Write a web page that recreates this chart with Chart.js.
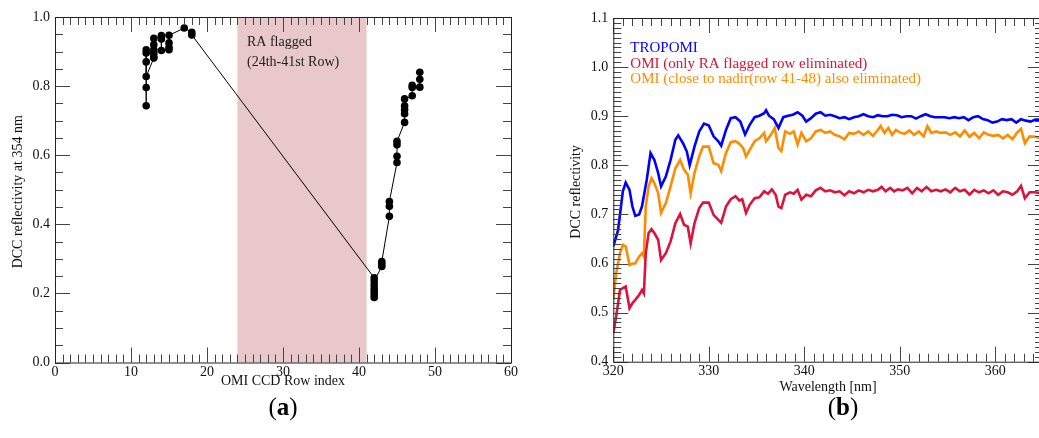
<!DOCTYPE html>
<html>
<head>
<meta charset="utf-8">
<script src="https://cdn.jsdelivr.net/npm/chart.js@4.4.0/dist/chart.umd.min.js"></script>
<style>
  body { margin: 0; background: #fff; overflow: hidden; width: 1039px; height: 438px; position: relative; }
  #boxA { position: absolute; left: 0; top: 0; }
  #boxB { position: absolute; left: 520px; top: 0; }
  .tag { position: absolute; top: 393px; font: 25px "Liberation Serif", serif; width: 60px; text-align: center; }
</style>
</head>
<body>
<canvas id="boxA" width="520" height="400"></canvas>
<canvas id="boxB" width="540" height="400"></canvas>
<div class="tag" style="left:253px">(<b>a</b>)</div>
<div class="tag" style="left:813px">(<b>b</b>)</div>
<script>
// (a) DCC reflectivity at 354 nm per OMI CCD row
const rowIdx = [12,12,12,12,12,12, 13,13,13,13,13,13, 14,14,14, 15,15,15,15, 17, 18,18,
                42,42,42,42,42,42,42, 43,43,43, 44,44,44, 45,45,45,45, 46,46,46,46,46, 47,47,47, 48,48,48];
const rowRefl = [0.905,0.896,0.870,0.743,0.796,0.828, 0.881,0.886,0.896,0.905,0.920,0.938,
                 0.946,0.936,0.903, 0.905,0.912,0.925,0.947, 0.968, 0.956,0.948,
                 0.245,0.188,0.197,0.206,0.215,0.225,0.236, 0.278,0.285,0.292,
                 0.423,0.452,0.466, 0.579,0.597,0.630,0.640, 0.695,0.720,0.732,0.743,0.763,
                 0.772,0.796,0.802, 0.797,0.820,0.840];
const flaggedRows = [24, 41];

// (b) DCC reflectivity spectra
const tropomiWl = [320.0,320.5,321.0,321.3,321.7,322.0,322.3,322.7,323.0,323.5,
  323.9,324.3,324.7,325.0,325.5,326.0,326.5,326.8,327.3,327.7,
  328.0,328.5,329.0,329.5,330.0,330.5,331.0,331.3,331.8,332.3,
  332.8,333.3,333.8,334.3,334.8,335.3,335.8,336.0,336.3,336.8,
  337.3,337.8,338.3,338.8,339.3,339.8,340.2,340.7,341.2,341.7,
  342.2,342.7,343.2,343.7,344.2,344.7,345.2,345.7,346.2,346.7,
  347.2,347.7,348.2,348.7,349.2,349.7,350.2,350.7,351.2,351.7,
  352.2,352.7,353.2,353.7,354.2,354.7,355.2,355.7,356.2,356.7,
  357.2,357.7,358.2,358.7,359.2,359.7,360.2,360.7,361.2,361.7,
  362.2,362.7,363.2,363.7,364.2,364.7];
const tropomiRefl = [0.635,0.668,0.747,0.765,0.750,0.716,0.697,0.700,0.716,0.770,
  0.825,0.811,0.784,0.757,0.777,0.811,0.852,0.861,0.845,0.828,
  0.800,0.838,0.869,0.885,0.881,0.859,0.849,0.840,0.872,0.896,
  0.898,0.889,0.863,0.883,0.898,0.901,0.906,0.912,0.901,0.894,
  0.876,0.898,0.901,0.903,0.908,0.901,0.889,0.896,0.905,0.908,
  0.901,0.903,0.900,0.896,0.898,0.894,0.898,0.900,0.904,0.900,
  0.898,0.902,0.900,0.900,0.903,0.902,0.898,0.900,0.900,0.895,
  0.900,0.904,0.900,0.898,0.898,0.898,0.896,0.898,0.896,0.898,
  0.892,0.898,0.900,0.894,0.892,0.887,0.889,0.894,0.892,0.894,
  0.887,0.894,0.891,0.889,0.893,0.893];

const omiRaWl = [320.0,320.3,320.7,321.0,321.3,321.7,322.0,322.3,322.7,323.0,
  323.2,323.4,323.7,324.0,324.3,324.7,325.0,325.5,326.0,326.5,
  327.0,327.4,327.8,328.1,328.5,329.0,329.4,330.0,330.5,331.0,
  331.3,331.8,332.3,332.8,333.2,333.5,333.9,334.3,334.8,335.3,
  335.8,336.2,336.6,337.0,337.3,337.6,338.0,338.5,338.9,339.3,
  339.7,340.2,340.7,341.2,341.7,342.2,342.7,343.2,343.7,344.2,
  344.7,345.2,345.7,346.2,346.7,347.2,347.7,348.1,348.5,349.0,
  349.4,349.8,350.3,350.8,351.3,351.8,352.3,352.8,353.3,353.8,
  354.3,354.8,355.3,355.8,356.3,356.8,357.3,357.8,358.3,358.8,
  359.3,359.8,360.3,360.8,361.3,361.8,362.3,362.7,363.1,363.6,
  364.2,364.7];
const omiRaRefl = [0.458,0.492,0.546,0.550,0.553,0.509,0.519,0.526,0.536,0.546,
  0.539,0.621,0.662,0.670,0.662,0.648,0.607,0.621,0.645,0.682,
  0.701,0.679,0.675,0.641,0.682,0.713,0.724,0.724,0.699,0.689,
  0.683,0.716,0.731,0.737,0.728,0.731,0.703,0.720,0.733,0.735,
  0.747,0.742,0.751,0.740,0.716,0.713,0.740,0.745,0.742,0.750,
  0.730,0.740,0.737,0.749,0.754,0.747,0.749,0.745,0.747,0.739,
  0.747,0.743,0.749,0.745,0.750,0.747,0.750,0.756,0.747,0.754,
  0.747,0.751,0.749,0.754,0.743,0.754,0.747,0.756,0.747,0.750,
  0.747,0.751,0.745,0.754,0.747,0.750,0.740,0.750,0.745,0.749,
  0.743,0.749,0.740,0.747,0.745,0.740,0.747,0.758,0.733,0.745,
  0.745,0.743];

const omiNadirWl = [320.0,320.3,320.7,321.0,321.3,321.7,322.0,322.3,322.7,323.0,
  323.2,323.4,323.7,324.0,324.3,324.7,325.0,325.5,326.0,326.5,
  327.0,327.4,327.8,328.1,328.5,329.0,329.4,330.0,330.5,331.0,
  331.3,331.8,332.3,332.8,333.2,333.6,333.9,334.3,334.8,335.3,
  335.8,336.0,336.5,336.9,337.3,337.6,338.0,338.5,338.9,339.3,
  339.7,340.2,340.7,341.2,341.7,342.2,342.7,343.2,343.7,344.2,
  344.7,345.2,345.7,346.2,346.7,347.2,347.7,348.0,348.4,348.8,
  349.2,349.6,350.0,350.5,351.0,351.5,352.0,352.5,352.9,353.3,
  353.8,354.3,354.8,355.3,355.8,356.3,356.8,357.3,357.8,358.3,
  358.8,359.3,359.8,360.3,360.8,361.3,361.8,362.3,362.7,363.1,
  363.6,364.2,364.7];
const omiNadirRefl = [0.526,0.580,0.621,0.638,0.635,0.597,0.600,0.600,0.614,0.621,
  0.614,0.716,0.757,0.774,0.764,0.743,0.703,0.723,0.757,0.794,
  0.811,0.791,0.781,0.743,0.784,0.818,0.838,0.838,0.804,0.801,
  0.788,0.825,0.847,0.849,0.844,0.835,0.818,0.832,0.849,0.855,
  0.866,0.849,0.862,0.876,0.835,0.829,0.869,0.864,0.869,0.842,
  0.866,0.849,0.855,0.869,0.872,0.866,0.869,0.862,0.859,0.853,
  0.866,0.864,0.869,0.862,0.869,0.860,0.872,0.880,0.866,0.876,
  0.862,0.872,0.867,0.864,0.871,0.862,0.869,0.859,0.880,0.866,
  0.869,0.866,0.867,0.862,0.867,0.859,0.871,0.858,0.866,0.855,
  0.867,0.862,0.860,0.862,0.855,0.862,0.853,0.867,0.874,0.845,
  0.859,0.858,0.855];

const seriesNames = ["TROPOMI", "OMI (only RA flagged row eliminated)", "OMI (close to nadir(row 41-48) also eliminated)"];
const seriesColors = ["#0000ff", "#dc143c", "#ff8c00"];

const SERIF = '"Liberation Serif", "DejaVu Serif", serif';
const pairs = (xs, ys) => xs.map((x, i) => ({ x: x, y: ys[i] }));

// frame + inward ticks on all four sides, axis titles, annotations
const framePlugin = {
  id: 'frame',
  beforeDatasetsDraw(chart, args, o) {
    if (!o.band) return;
    const { ctx, chartArea: a, scales: { x } } = chart;
    ctx.save();
    ctx.fillStyle = '#e8c8ca';
    const x0 = x.getPixelForValue(o.band[0]), x1 = x.getPixelForValue(o.band[1]);
    ctx.fillRect(x0, a.top, x1 - x0, a.bottom - a.top);
    ctx.restore();
  },
  afterDatasetsDraw(chart, args, o) {
    const { ctx, chartArea: a, scales: { x, y } } = chart;
    ctx.save();
    ctx.strokeStyle = '#444';
    ctx.lineWidth = 1;
    const nx = Math.round((x.max - x.min) / o.xMinor);
    for (let i = 0; i <= nx; i++) {
      const v = x.min + i * o.xMinor;
      const major = Math.abs(v / o.xMajor - Math.round(v / o.xMajor)) < 1e-6;
      const len = major ? 15 : 8;
      const px = Math.round(x.getPixelForValue(v)) + 0.5;
      ctx.beginPath();
      ctx.moveTo(px, a.bottom); ctx.lineTo(px, a.bottom - len);
      ctx.moveTo(px, a.top); ctx.lineTo(px, a.top + len);
      ctx.stroke();
    }
    const ny = Math.round((y.max - y.min) / o.yMinor);
    for (let i = 0; i <= ny; i++) {
      const v = y.min + i * o.yMinor;
      const major = Math.abs(v / o.yMajor - Math.round(v / o.yMajor)) < 1e-6;
      const len = major ? 15 : 8;
      const py = Math.round(y.getPixelForValue(v)) + 0.5;
      ctx.beginPath();
      ctx.moveTo(a.left, py); ctx.lineTo(a.left + len, py);
      ctx.moveTo(a.right, py); ctx.lineTo(a.right - len, py);
      ctx.stroke();
    }
    ctx.strokeStyle = '#222';
    ctx.strokeRect(a.left + 0.5, a.top + 0.5, a.right - a.left, a.bottom - a.top);

    ctx.fillStyle = '#111';
    ctx.font = '14px ' + SERIF;
    ctx.textAlign = 'center';
    ctx.textBaseline = 'middle';
    ctx.fillText(o.xTitle, o.xTitleX, a.bottom + o.xTitleDy);
    ctx.translate(o.yTitleX, (a.top + a.bottom) / 2 + 2);
    ctx.rotate(-Math.PI / 2);
    ctx.fillText(o.yTitle, 0, 0);
    ctx.restore();

    if (o.notes) {
      ctx.save();
      ctx.font = o.notes.font + ' ' + SERIF;
      ctx.textAlign = 'left';
      ctx.textBaseline = 'middle';
      o.notes.lines.forEach((t, i) => {
        ctx.fillStyle = o.notes.colors[i];
        ctx.fillText(t, a.left + o.notes.dx, a.top + o.notes.dy + i * o.notes.step);
      });
      ctx.restore();
    }
  }
};

const tickFont = { family: SERIF, size: 14 };
const xScale = (min, max, h) => ({
  type: 'linear', min: min, max: max,
  grid: { display: false }, border: { display: false },
  afterFit: s => { s.height = h; },
  afterBuildTicks: s => { s.ticks = s.ticks.filter(t => Math.abs(t.value % 10) < 1e-6); },
  ticks: { stepSize: 10, padding: -7, color: '#111', font: tickFont, callback: v => v.toFixed(0) }
});
const yScale = (min, max, step, w) => ({
  type: 'linear', min: min, max: max,
  grid: { display: false }, border: { display: false },
  afterFit: s => { s.width = w; },
  ticks: { stepSize: step, padding: -3, color: '#111', font: tickFont, callback: v => v.toFixed(1) }
});

new Chart(document.getElementById('boxA'), {
  type: 'scatter',
  data: {
    datasets: [{
      data: pairs(rowIdx, rowRefl),
      showLine: true, borderColor: '#000', borderWidth: 1,
      pointRadius: 3.8, pointBackgroundColor: '#000', pointBorderWidth: 0
    }]
  },
  options: {
    responsive: false, animation: false,
    layout: { padding: { left: 0, right: 9, top: 17, bottom: 0 } },
    plugins: {
      legend: { display: false }, tooltip: { enabled: false },
      frame: {
        xMajor: 10, xMinor: 1, yMajor: 0.2, yMinor: 0.05, band: flaggedRows,
        xTitle: 'OMI CCD Row index', xTitleX: 283, xTitleDy: 19, yTitle: 'DCC reflectivity at 354 nm', yTitleX: 18,
        notes: { lines: ['RA flagged', '(24th-41st Row)'], colors: ['#222', '#222'], font: '14px', dx: 192, dy: 25, step: 20 }
      }
    },
    scales: { x: xScale(0, 60, 37.5), y: yScale(0, 1, 0.2, 55) }
  },
  plugins: [framePlugin]
});

new Chart(document.getElementById('boxB'), {
  type: 'scatter',
  data: {
    datasets: [
      { data: pairs(tropomiWl, tropomiRefl), borderColor: seriesColors[0] },
      { data: pairs(omiRaWl, omiRaRefl), borderColor: seriesColors[1] },
      { data: pairs(omiNadirWl, omiNadirRefl), borderColor: seriesColors[2] }
    ].map(d => Object.assign(d, { showLine: true, borderWidth: 2.6, pointRadius: 0, tension: 0 }))
  },
  options: {
    responsive: false, animation: false,
    layout: { padding: { left: 0, right: 17, top: 18, bottom: 0 } },
    plugins: {
      legend: { display: false }, tooltip: { enabled: false },
      frame: {
        xMajor: 10, xMinor: 1, yMajor: 0.1, yMinor: 0.01,
        xTitle: 'Wavelength [nm]', xTitleX: 308, xTitleDy: 25.5, yTitle: 'DCC reflectivity', yTitleX: 56,
        notes: { lines: seriesNames, colors: seriesColors, font: '15px', dx: 17, dy: 30, step: 15.7 }
      }
    },
    scales: { x: xScale(320, 365, 38.3), y: yScale(0.4, 1.1, 0.1, 93.3) }
  },
  plugins: [framePlugin]
});
</script>
</body>
</html>
